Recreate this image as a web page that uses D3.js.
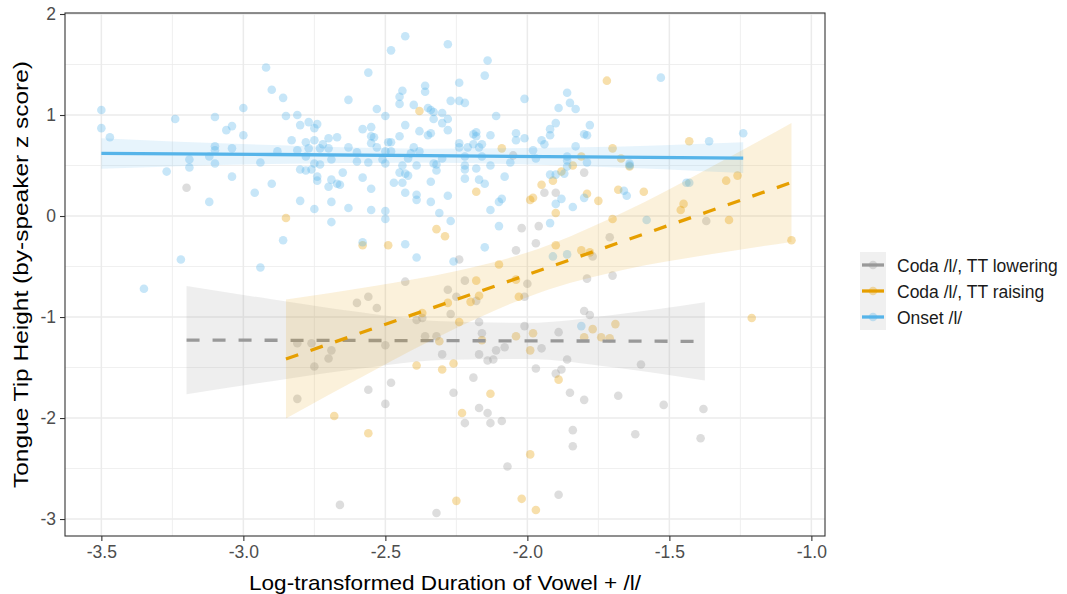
<!DOCTYPE html>
<html>
<head>
<meta charset="utf-8">
<script src="https://cdn.jsdelivr.net/npm/d3@7"></script>
<style>
  body { margin: 0; background: #fff; }
  text { font-family: 'Liberation Sans', Arial, Helvetica, sans-serif; }
</style>
</head>
<body>
<div id="chart"></div>
<script>
// data: [log duration, z score]
const onset = [
  [-2.92,1.47],[-2.90,1.25],[-2.86,1.17],[-3.50,1.05],[-3.50,0.87],[-3.47,0.78],[-3.24,0.96],[-3.10,0.98],
  [-3.00,1.07],[-3.06,0.85],[-3.04,0.89],[-3.00,0.80],[-3.10,0.69],[-3.10,0.65],[-3.04,0.67],[-3.12,0.59],
  [-3.19,0.56],[-3.19,0.48],[-3.10,0.52],[-3.27,0.44],[-3.04,0.39],[-2.94,0.53],[-2.88,0.64],[-2.85,0.99],
  [-2.81,1.00],[-2.80,0.90],[-2.77,0.93],[-2.75,0.87],[-2.83,0.75],[-2.78,0.73],[-2.81,0.65],[-2.77,0.67],
  [-2.75,0.75],[-2.78,0.59],[-2.80,0.46],[-2.78,0.45],[-2.76,0.46],[-2.75,0.52],[-2.74,0.39],[-2.74,0.35],
  [-2.90,0.32],[-2.96,0.23],[-3.12,0.14],[-2.80,0.15],[-2.75,0.07],[-2.86,-0.24],[-3.22,-0.43],[-2.94,-0.51],
  [-3.35,-0.72],[-2.43,1.78],[-2.28,1.70],[-2.48,1.64],[-2.14,1.54],[-2.56,1.42],[-2.15,1.39],[-2.24,1.32],
  [-2.44,1.24],[-2.45,1.18],[-2.45,1.11],[-2.36,1.29],[-2.36,1.23],[-2.63,1.15],[-2.53,1.06],[-2.50,0.99],
  [-2.40,1.10],[-2.35,1.07],[-2.34,1.05],[-2.33,1.03],[-2.30,1.02],[-2.28,0.96],[-2.30,0.92],[-2.33,0.96],
  [-2.27,1.14],[-2.24,1.14],[-2.22,1.12],[-2.01,1.16],[-2.11,0.99],[-2.43,0.90],[-2.58,0.86],[-2.55,0.88],
  [-2.38,0.84],[-2.34,0.82],[-2.35,0.80],[-2.28,0.85],[-2.45,0.79],[-2.55,0.79],[-2.54,0.78],[-2.55,0.72],
  [-2.74,0.91],[-2.70,0.77],[-2.67,0.78],[-2.72,0.71],[-2.70,0.67],[-2.73,0.67],[-2.63,0.68],[-2.60,0.63],
  [-2.53,0.68],[-2.49,0.73],[-2.48,0.73],[-2.48,0.64],[-2.50,0.64],[-2.40,0.68],[-2.38,0.64],[-2.41,0.62],
  [-2.24,0.68],[-2.24,0.72],[-2.19,0.81],[-2.18,0.83],[-2.18,0.79],[-2.13,0.80],[-2.19,0.71],[-2.17,0.68],
  [-2.16,0.71],[-2.21,0.68],[-2.04,0.82],[-2.04,0.75],[-2.01,0.77],[-1.98,0.65],[-1.97,0.57],[-1.95,0.75],
  [-1.94,0.71],[-1.92,0.86],[-1.92,0.80],[-1.90,0.92],[-1.89,1.07],[-2.73,0.51],[-2.69,0.56],[-2.60,0.54],
  [-2.56,0.53],[-2.51,0.56],[-2.50,0.52],[-2.44,0.50],[-2.42,0.57],[-2.39,0.50],[-2.33,0.52],[-2.32,0.51],
  [-2.32,0.45],[-2.30,0.57],[-2.22,0.59],[-2.22,0.50],[-2.22,0.46],[-2.18,0.47],[-2.16,0.59],[-2.13,0.50],
  [-2.06,0.53],[-2.70,0.29],[-2.69,0.36],[-2.67,0.32],[-2.66,0.31],[-2.65,0.43],[-2.58,0.38],[-2.55,0.27],
  [-2.45,0.43],[-2.44,0.33],[-2.47,0.33],[-2.43,0.42],[-2.42,0.40],[-2.43,0.23],[-2.34,0.34],[-2.39,0.21],
  [-2.39,0.16],[-2.34,0.14],[-2.28,0.20],[-2.22,0.37],[-2.17,0.36],[-2.15,0.32],[-2.08,0.39],[-2.10,0.14],
  [-2.09,0.17],[-2.13,0.06],[-2.69,0.14],[-2.63,0.08],[-2.55,0.06],[-2.50,0.05],[-2.50,-0.03],[-2.69,-0.06],
  [-2.31,0.03],[-2.27,-0.05],[-2.58,-0.26],[-2.43,-0.28],[-2.39,-0.41],[-2.26,-0.45],[-2.15,-0.31],[-2.10,-0.10],
  [-1.92,-0.07],[-1.91,-0.40],[-1.53,1.37],[-1.86,1.22],[-1.85,1.12],[-1.83,1.06],[-1.78,0.90],[-1.80,0.81],
  [-1.79,0.80],[-1.83,0.69],[-1.86,0.59],[-1.86,0.55],[-1.79,0.53],[-1.86,0.49],[-1.87,0.42],[-1.90,0.41],
  [-1.92,0.41],[-1.64,0.52],[-1.64,0.50],[-1.36,0.74],[-1.24,0.82],[-1.44,0.33],[-1.43,0.33],[-1.66,0.25],
  [-1.65,0.20],[-1.88,0.17],[-1.90,0.12],[-1.80,0.18],[-1.84,0.09],[-1.58,-0.04],[-1.86,-0.38],[-1.81,-1.09]
]

const codaRaising = [
  [-2.85,-0.02],[-2.38,1.04],[-2.09,0.67],[-2.18,0.24],[-1.95,0.31],[-1.91,0.35],[-1.99,0.16],[-1.98,0.18],
  [-1.90,0.03],[-2.32,-0.13],[-2.29,-0.20],[-2.58,-0.29],[-2.49,-0.29],[-2.10,-0.48],[-1.90,-0.29],[-1.72,1.34],
  [-1.43,0.74],[-1.70,0.67],[-1.81,0.59],[-1.84,0.50],[-1.67,0.57],[-1.64,0.49],[-1.88,0.44],[-1.30,0.35],
  [-1.26,0.40],[-1.68,0.26],[-1.59,0.24],[-1.79,0.22],[-1.75,0.15],[-1.45,0.12],[-1.46,0.06],[-1.70,-0.03],
  [-1.29,-0.04],[-1.81,-0.34],[-1.78,-0.36],[-1.07,-0.24],[-2.18,-0.64],[-2.17,-0.79],[-2.20,-0.85],[-2.04,-0.63],
  [-2.03,-0.80],[-2.28,-0.86],[-2.37,-0.96],[-2.24,-1.05],[-2.31,-1.24],[-2.16,-1.23],[-2.04,-1.19],[-1.98,-1.16],
  [-1.99,-1.33],[-2.39,-1.48],[-2.30,-1.52],[-2.26,-1.46],[-1.89,-1.62],[-2.13,-1.76],[-2.23,-1.95],[-2.68,-1.98],
  [-2.56,-2.15],[-1.99,-2.36],[-2.25,-2.82],[-2.02,-2.80],[-1.97,-2.91],[-1.77,-1.12],[-1.80,-1.20],[-1.74,-1.20],
  [-1.71,-1.21],[-1.69,-1.07],[-1.21,-1.01]
]

const codaLowering = [
  [-3.20,0.28],[-2.81,-1.26],[-2.76,-1.26],[-2.75,-1.49],[-2.81,-1.81],[-2.05,0.60],[-1.94,0.23],[-1.90,0.23],
  [-2.02,-0.12],[-1.96,-0.10],[-2.04,-0.34],[-1.97,-0.27],[-2.24,-0.43],[-1.80,0.43],[-1.71,-0.21],[-1.77,-0.40],
  [-1.37,-0.05],[-1.79,-0.62],[-1.70,-0.59],[-2.43,-0.65],[-2.60,-0.86],[-2.56,-0.80],[-2.53,-0.91],[-2.28,-0.73],
  [-2.22,-0.64],[-2.25,-0.80],[-2.27,-0.97],[-2.18,-0.84],[-2.17,-1.05],[-2.16,-1.16],[-2.00,-0.67],[-2.01,-0.80],
  [-2.39,-1.03],[-2.37,-1.01],[-2.36,-1.19],[-2.32,-1.19],[-2.50,-1.28],[-2.69,-1.33],[-2.70,-1.41],[-2.30,-1.37],
  [-2.17,-1.37],[-2.14,-1.43],[-2.12,-1.42],[-2.11,-1.33],[-2.08,-1.30],[-2.01,-1.09],[-1.95,-1.31],[-1.97,-1.51],
  [-1.88,-1.52],[-1.90,-1.56],[-1.89,-1.15],[-2.56,-1.72],[-2.48,-1.65],[-2.50,-1.86],[-2.26,-1.75],[-2.19,-1.60],
  [-2.17,-1.90],[-2.14,-1.95],[-2.13,-2.05],[-2.22,-2.05],[-2.09,-2.03],[-2.07,-2.48],[-2.66,-2.86],[-2.32,-2.94],
  [-1.89,-2.76],[-1.80,-0.94],[-1.78,-0.98],[-1.86,-1.42],[-1.60,-1.47],[-1.85,-1.75],[-1.80,-1.82],[-1.68,-1.78],
  [-1.52,-1.87],[-1.38,-1.91],[-1.84,-2.12],[-1.84,-2.28],[-1.62,-2.16],[-1.39,-2.20]
]

// linear fits with 95% bands
const lowerX = [-3.2, -2.9, -2.6, -2.3, -2.0, -1.7, -1.375]
const lowerFit = [-1.228, -1.230, -1.232, -1.234, -1.236, -1.238, -1.241]
const lowerLo = [-1.764, -1.635, -1.515, -1.425, -1.415, -1.497, -1.628]
const lowerHi = [-0.692, -0.825, -0.949, -1.043, -1.057, -0.979, -0.854]

const raiseX = [-2.85, -2.55, -2.25, -1.96, -1.66, -1.36, -1.07]
const raiseFit = [-1.416, -1.121, -0.827, -0.542, -0.247, 0.047, 0.332]
const raiseLo = [-2.005, -1.544, -1.109, -0.761, -0.533, -0.382, -0.257]
const raiseHi = [-0.827, -0.698, -0.545, -0.323, 0.039, 0.476, 0.921]

const onsetX = [-3.5, -2.9, -2.35, -1.8, -1.24]
const onsetFit = [0.621, 0.609, 0.597, 0.586, 0.574]
const onsetLo = [0.467, 0.515, 0.527, 0.492, 0.425]
const onsetHi = [0.771, 0.703, 0.667, 0.680, 0.730]

const labels = ['Coda /l/, TT lowering', 'Coda /l/, TT raising', 'Onset /l/']
const colors = ['#999999', '#E69F00', '#56B4E9']
const xTicks = [-3.5, -3.0, -2.5, -2.0, -1.5, -1.0]
const xMinor = [-3.25, -2.75, -2.25, -1.75, -1.25]
const yTicks = [-3, -2, -1, 0, 1, 2]
const yMinor = [-2.5, -1.5, -0.5, 0.5, 1.5]

// size
const W = 1067
const H = 594
const panel = { left: 65, right: 825, top: 13, bottom: 536 }

// scale
const x = d3.scaleLinear().domain([-3.628, -0.952]).range([panel.left, panel.right])
const y = d3.scaleLinear().domain([-3.168, 2.01]).range([panel.bottom, panel.top])

const color = d3.scaleOrdinal().domain(labels).range(colors)

const svg = d3.select('#chart').append('svg')
  .attr('width', W)
  .attr('height', H)

svg.append('rect').attr('width', W).attr('height', H).attr('fill', '#fff')

// grid
const grid = svg.append('g')
grid.selectAll('line.xmin').data(xMinor).join('line')
  .attr('x1', d => x(d)).attr('x2', d => x(d))
  .attr('y1', panel.top).attr('y2', panel.bottom)
  .attr('stroke', '#ebebeb').attr('stroke-width', 0.8)
grid.selectAll('line.ymin').data(yMinor).join('line')
  .attr('y1', d => y(d)).attr('y2', d => y(d))
  .attr('x1', panel.left).attr('x2', panel.right)
  .attr('stroke', '#ebebeb').attr('stroke-width', 0.8)
grid.selectAll('line.xmaj').data(xTicks).join('line')
  .attr('x1', d => x(d)).attr('x2', d => x(d))
  .attr('y1', panel.top).attr('y2', panel.bottom)
  .attr('stroke', '#ebebeb').attr('stroke-width', 1.5)
grid.selectAll('line.ymaj').data(yTicks).join('line')
  .attr('y1', d => y(d)).attr('y2', d => y(d))
  .attr('x1', panel.left).attr('x2', panel.right)
  .attr('stroke', '#ebebeb').attr('stroke-width', 1.5)

// points
const groups = [codaLowering, codaRaising, onset]
const plot = svg.append('g')
groups.forEach((pts, i) => {
  plot.append('g').selectAll('circle').data(pts).join('circle')
    .attr('cx', d => x(d[0]))
    .attr('cy', d => y(d[1]))
    .attr('r', 4.3)
    .attr('fill', colors[i])
    .attr('fill-opacity', 0.33)
})

// smooths
const fits = [
  { xs: lowerX, fit: lowerFit, lo: lowerLo, hi: lowerHi, dash: '13,13' },
  { xs: raiseX, fit: raiseFit, lo: raiseLo, hi: raiseHi, dash: '13,13' },
  { xs: onsetX, fit: onsetFit, lo: onsetLo, hi: onsetHi, dash: null },
]
const band = d3.area()
  .x(d => x(d[0])).y0(d => y(d[1])).y1(d => y(d[2]))
  .curve(d3.curveMonotoneX)
const line = d3.line().x(d => x(d[0])).y(d => y(d[1]))

fits.forEach((f, i) => {
  const rows = f.xs.map((v, j) => [v, f.lo[j], f.hi[j], f.fit[j]])
  plot.append('path')
    .attr('d', band(rows))
    .attr('fill', colors[i])
    .attr('fill-opacity', i === 0 ? 0.17 : 0.14)
  plot.append('path')
    .attr('d', line(rows.map(r => [r[0], r[3]])))
    .attr('fill', 'none')
    .attr('stroke', colors[i])
    .attr('stroke-width', 3.3)
    .attr('stroke-dasharray', f.dash)
})

// panel border
svg.append('rect')
  .attr('x', panel.left).attr('y', panel.top)
  .attr('width', panel.right - panel.left)
  .attr('height', panel.bottom - panel.top)
  .attr('fill', 'none').attr('stroke', '#333').attr('stroke-width', 1.1)

// axes
const xAxis = svg.append('g')
  .attr('transform', `translate(0, ${panel.bottom})`)
  .call(d3.axisBottom(x).tickValues(xTicks).tickFormat(d => d.toFixed(1)).tickSize(5).tickPadding(5))
const yAxis = svg.append('g')
  .attr('transform', `translate(${panel.left}, 0)`)
  .call(d3.axisLeft(y).tickValues(yTicks).tickFormat(d => String(d)).tickSize(5).tickPadding(4))

;[xAxis, yAxis].forEach(a => {
  a.select('.domain').remove()
  a.selectAll('.tick line').attr('stroke', '#333').attr('stroke-width', 1.1)
  a.selectAll('.tick text')
    .attr('fill', '#4d4d4d')
    .attr('font-size', '17.5px')
    .style('font-family', "'Liberation Sans', Arial, sans-serif")
})

// axis titles
svg.append('text')
  .attr('x', (panel.left + panel.right) / 2)
  .attr('y', 590)
  .attr('text-anchor', 'middle')
  .attr('font-size', '21px')
  .attr('textLength', 392)
  .attr('lengthAdjust', 'spacingAndGlyphs')
  .attr('fill', '#000')
  .text('Log-transformed Duration of Vowel + /l/')

svg.append('text')
  .attr('transform', `translate(28, ${(panel.top + panel.bottom) / 2}) rotate(-90)`)
  .attr('text-anchor', 'middle')
  .attr('font-size', '21px')
  .attr('textLength', 427)
  .attr('lengthAdjust', 'spacingAndGlyphs')
  .attr('fill', '#000')
  .text('Tongue Tip Height (by-speaker z score)')

// legend
const legend = svg.append('g').attr('transform', 'translate(860, 252)')
labels.forEach((lab, i) => {
  const row = legend.append('g').attr('transform', `translate(0, ${26 * i})`)
  row.append('rect')
    .attr('width', 26).attr('height', 26)
    .attr('fill', '#f0f0f0')
  row.append('line')
    .attr('x1', 2).attr('x2', 24).attr('y1', 13).attr('y2', 13)
    .attr('stroke', color(lab)).attr('stroke-width', 3.3)
  row.append('circle')
    .attr('cx', 13).attr('cy', 13).attr('r', 4.3)
    .attr('fill', color(lab)).attr('fill-opacity', 0.33)
  row.append('text')
    .attr('x', 37).attr('y', 19.5)
    .attr('font-size', '17.5px')
    .attr('fill', '#1a1a1a')
    .text(lab)
})
</script>
</body>
</html>
